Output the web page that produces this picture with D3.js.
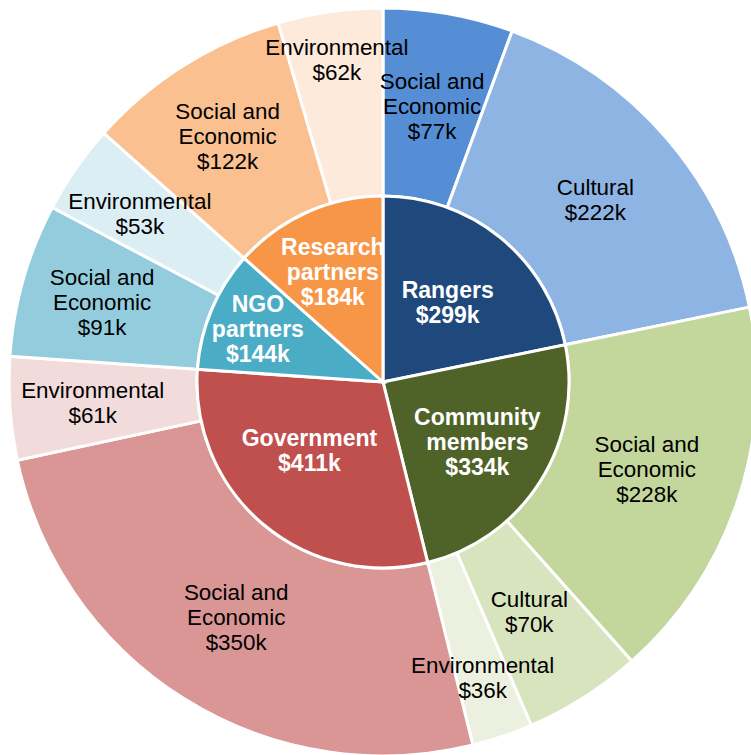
<!DOCTYPE html>
<html>
<head>
<meta charset="utf-8">
<script src="https://cdn.jsdelivr.net/npm/d3@7"></script>
<style>
  body { margin: 0; background: #fff; }
  text { font-family: "Liberation Sans", Arial, sans-serif; }
</style>
</head>
<body>
<div id="target"></div>
<script>
// inner ring: who received the money
var groups = ["Rangers", "Community members", "Government", "NGO partners", "Research partners"];
var groupValues = [299, 334, 411, 144, 184];
var groupColors = ["#1f497d", "#4f6228", "#c0504d", "#4bacc6", "#f79646"];

// outer ring: what it was spent on, per group
var subNames = [
  ["Social and Economic", "Cultural"],
  ["Social and Economic", "Cultural", "Environmental"],
  ["Social and Economic", "Environmental"],
  ["Social and Economic", "Environmental"],
  ["Social and Economic", "Environmental"]
];
var subValues = [
  [77, 222],
  [228, 70, 36],
  [350, 61],
  [91, 53],
  [122, 62]
];
var subColors = [
  ["#558ed5", "#8eb4e3"],
  ["#c3d69b", "#d7e4bd", "#ebf1de"],
  ["#d99694", "#f2dcdb"],
  ["#93cddd", "#dbeef4"],
  ["#fac090", "#fdeada"]
];

var W = 751, H = 755;
var cx = 383, cy = 382;
var R0 = 186, R1 = 374;

var svg = d3.select("#target").append("svg").attr("width", W).attr("height", H);
var g = svg.append("g").attr("transform", "translate(" + cx + "," + cy + ")");

var fmt = function(v) { return "$" + v + "k"; };
var splitName = function(n) {
  if (n == "Social and Economic") return ["Social and", "Economic"];
  return n.split(" ");
};

// flatten the outer ring so it lines up with the inner pie
var outer = [];
subNames.forEach(function(names, i) {
  names.forEach(function(n, j) {
    outer.push({ group: i, name: n, value: subValues[i][j], color: subColors[i][j] });
  });
});

var pie = d3.pie().sort(null).value(function(d) { return d.value; });
var innerArcs = pie(groups.map(function(n, i) { return { name: n, value: groupValues[i], color: groupColors[i] }; }));
var outerArcs = pie(outer);

var innerArc = d3.arc().innerRadius(0).outerRadius(R0);
var outerArc = d3.arc().innerRadius(R0).outerRadius(R1);

g.selectAll("path.outer")
  .data(outerArcs)
  .enter().append("path")
  .attr("class", "outer")
  .attr("d", outerArc)
  .attr("fill", function(d) { return d.data.color; })
  .attr("stroke", "#fff")
  .attr("stroke-width", 3);

g.selectAll("path.inner")
  .data(innerArcs)
  .enter().append("path")
  .attr("class", "inner")
  .attr("d", innerArc)
  .attr("fill", function(d) { return d.data.color; })
  .attr("stroke", "#fff")
  .attr("stroke-width", 3);

var LH = 25;
var polar = function(a, r) { return [r * Math.sin(a), -r * Math.cos(a)]; };

var addLabel = function(p, lines, color, bold, size) {
  var t = g.append("text")
    .attr("text-anchor", "middle")
    .attr("fill", color)
    .attr("font-weight", bold ? "bold" : "normal")
    .attr("font-size", size);
  lines.forEach(function(l, k) {
    t.append("tspan")
      .attr("x", p[0])
      .attr("y", p[1] + (k - (lines.length - 1) / 2) * LH)
      .attr("dy", "0.35em")
      .text(l);
  });
};

// label radius, as a share of the inner radius, plus a small nudge
var innerLabelR = [0.55, 0.6, 0.54, 0.73, 0.66];
var innerNudge = [[0, 0], [0, 0], [-9, -8], [0, 0], [0, 2]];
innerArcs.forEach(function(d, i) {
  var a = (d.startAngle + d.endAngle) / 2;
  var p = polar(a, R0 * innerLabelR[i]);
  p = [p[0] + innerNudge[i][0], p[1] + innerNudge[i][1]];
  addLabel(p, splitName(d.data.name).concat([fmt(d.data.value)]), "#fff", true, 23);
});

// outer label radius per slice (Excel pushes some of them around)
var outerLabelR = [280, 280, 278, 272, 312, 277, 291, 292, 296, 291, 326];
outerArcs.forEach(function(d, i) {
  var a = (d.startAngle + d.endAngle) / 2;
  var p = polar(a, outerLabelR[i]);
  var lines = d.data.name == "Social and Economic" ? splitName(d.data.name) : [d.data.name];
  addLabel(p, lines.concat([fmt(d.data.value)]), "#000", false, 22.4);
});
</script>
</body>
</html>
